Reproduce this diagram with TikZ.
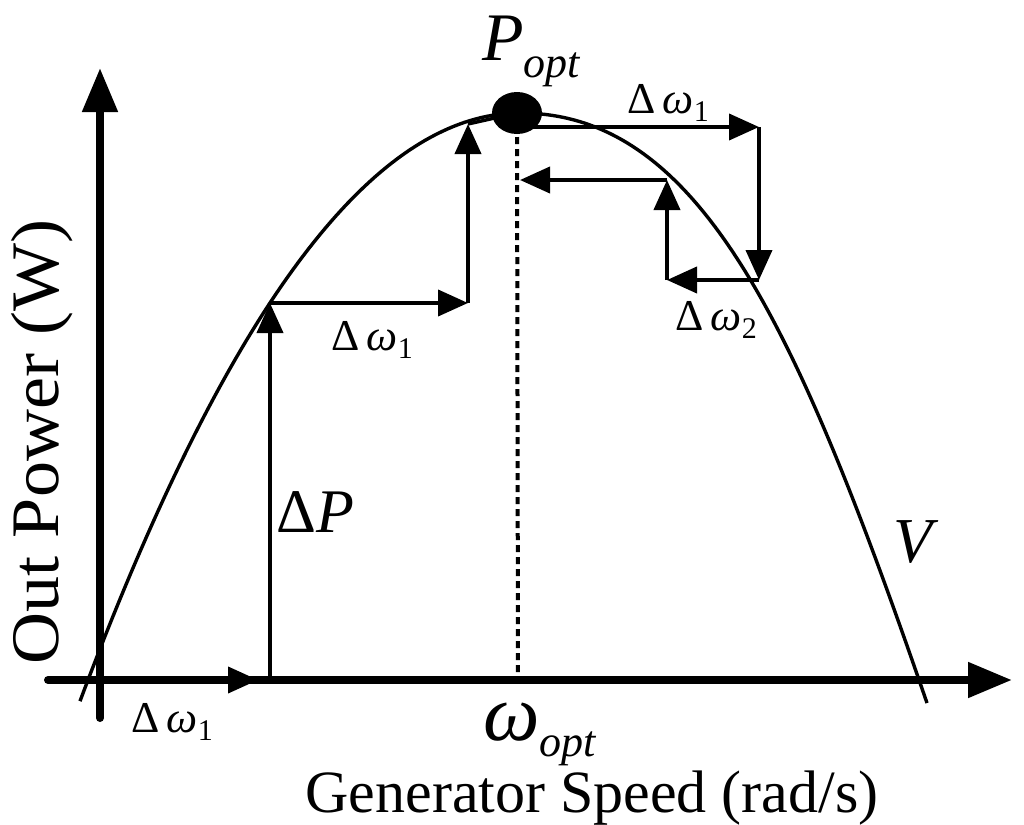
\documentclass[tikz,border=0pt]{standalone}
\usepackage{fontspec}
\setmainfont{Liberation Serif}
\usetikzlibrary{arrows.meta,shapes.geometric}
\newcommand{\fsz}[1]{\fontsize{#1}{#1}\selectfont}
\newcommand{\dwlab}[1]{{\fsz{22pt}Δ\,\textit{ω}\raisebox{-0.35ex}{\fsz{15pt}#1}}}
\begin{document}
\begin{tikzpicture}[x=0.5pt,y=-0.5pt,
  axis/.style={line width=4pt,-{Triangle[length=22pt,width=17pt]}},
  arr/.style={line width=2pt,-{Triangle[length=15pt,width=13pt]}},
  thin/.style={line width=1.7pt},
  lbl/.style={inner sep=0pt}]
\useasboundingbox (0,0) rectangle (1024,825);
% axes
\coordinate (xs) at (48,680);
\coordinate (xe) at (1012,680);
\coordinate (ys) at (100,718);
\coordinate (ye) at (100,68);
\coordinate (o) at (100,680);
\draw[axis,line cap=round] (xs) -- (xe);
\draw[axis,line cap=round] (ys) -- (ye);
% curve
\draw[thin] plot[domain=80:520,samples=80] (\x,{113+567*((520-\x)/432)^2})
  .. controls (700,113) and (797,326) .. (927,703);
% optimum point
\node[ellipse,fill=black,minimum width=25pt,minimum height=21pt,inner sep=0pt] (popt) at (517,113) {};
\coordinate (wo) at (518,680);
\draw[line width=2pt,dash pattern=on 3.5pt off 2.5pt] (popt.center) -- (wo);
% step arrows
\coordinate (c1) at (258,680);
\coordinate (a0) at (270,680);
\coordinate (a1) at (270,303);
\coordinate (a2) at (468,303);
\coordinate (a3) at (468,124);
\coordinate (b1) at (759,127);
\coordinate (b2) at (759,280);
\coordinate (b3) at (667,280);
\coordinate (b4) at (667,180);
\coordinate (b5) at (520,180);
\draw[arr] (o) -- (c1);
\draw[arr] (a0) -- (a1);
\draw[arr] (a1) -- (a2);
\draw[arr] (a2) -- (a3);
\draw[thin] (a3) -- (popt.center);
\draw[arr] (popt.center |- b1) -- (b1);
\draw[arr] (b1) -- (b2);
\draw[arr] (b2) -- (b3);
\draw[arr] (b3) -- (b4);
\draw[arr] (b4) -- (b5);
% labels
\node[lbl] (lw1a) at (668,103) {\dwlab{1}};
\node[lbl] (lw1b) at (372,340) {\dwlab{1}};
\node[lbl] (lw1c) at (172,722) {\dwlab{1}};
\node[lbl] (lw2) at (716,320) {\dwlab{2}};
\node[lbl,anchor=base west] (ldp) at (276,532) {\fsz{31pt}Δ\textit{P}};
\node[lbl,anchor=base west] (lpopt) at (482,60) {\fsz{34pt}\textit{P}\raisebox{-8.5pt}{\fsz{22pt}\textit{opt}}};
\node[lbl,anchor=base west] (lwopt) at (483,740) {\fsz{40pt}\textit{ω}\raisebox{-8pt}{\fsz{22pt}\textit{opt}}};
\node[lbl,anchor=base west] (lv) at (893,562) {\fsz{32pt}\textit{V}};
\node[lbl,anchor=base] (lx) at (592,812) {\fsz{30pt}Generator Speed (rad/s)};
\node[lbl,rotate=90,anchor=base] (ly) at (58,442) {\scalebox{1.06}[1]{\fsz{34pt}Out Power (W)}};
\end{tikzpicture}
\end{document}
